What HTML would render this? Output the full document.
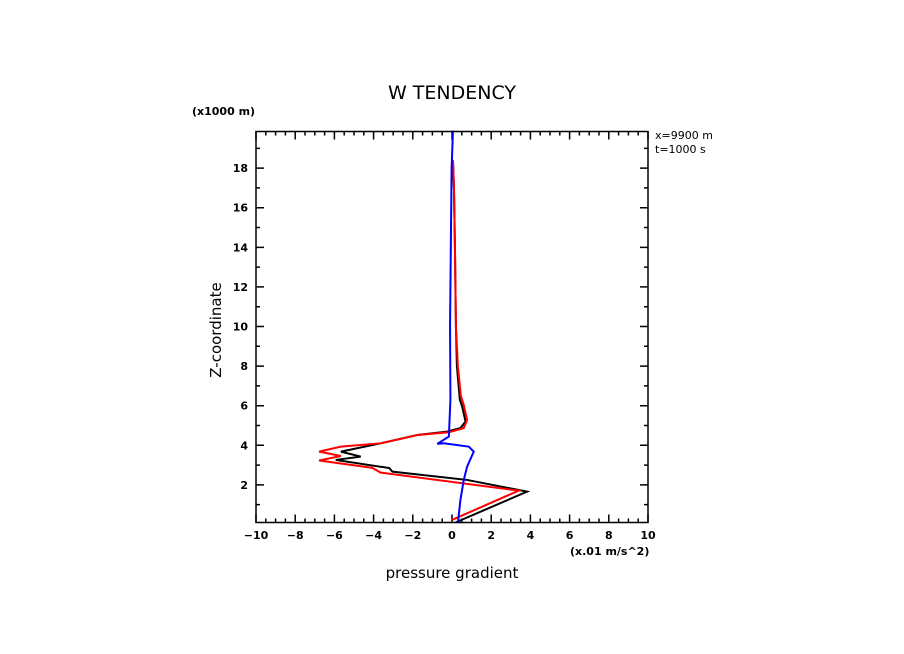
<!DOCTYPE html>
<html><head><meta charset="utf-8"><style>
body{margin:0;background:#fff;}
svg{display:block;font-family:"DejaVu Sans","Liberation Sans",sans-serif;}
</style></head><body>
<svg id="chart" width="904" height="654" viewBox="0 0 904 654" xmlns="http://www.w3.org/2000/svg">
<rect width="904" height="654" fill="#fff"/>
<text x="452" y="99" font-size="19" text-anchor="middle">W TENDENCY</text>
<text x="192" y="115" font-size="11" font-weight="bold">(x1000 m)</text>
<text x="655" y="139" font-size="11">x=9900 m</text>
<text x="655" y="153" font-size="11">t=1000 s</text>
<text x="570" y="555" font-size="11" font-weight="bold">(x.01 m/s^2)</text>
<text x="452" y="578" font-size="15" text-anchor="middle">pressure gradient</text>
<text x="0" y="0" font-size="15" text-anchor="middle" transform="translate(221,330) rotate(-90)">Z-coordinate</text>
<g id="axes"></g>
<g id="series"></g>
<rect x="256" y="131.5" width="392" height="391" fill="none" stroke="#000" stroke-width="1.5"/>
</svg>
<script>
const xTicks=[-10,-8,-6,-4,-2,0,2,4,6,8,10];
const yTicks=[2,4,6,8,10,12,14,16,18];
const blackX=[0.18,3.83,0.77,-3.04,-3.2,-5.93,-4.66,-5.67,-3.64,-1.77,-0.25,0.43,0.69,0.52,0.4,0.25,0.2,0.15,0.1,0.05];
const blackZ=[0.1,1.66,2.25,2.67,2.85,3.26,3.43,3.68,4.1,4.52,4.69,4.87,5.2,5.95,6.3,8,10,14,17,18.3];
const redX=[0,3.4,-3.64,-4.06,-6.78,-5.67,-6.78,-5.67,-3.64,-1.77,-0.16,0.6,0.77,0.6,0.45,0.3,0.2,0.15,0.1,0.05];
const redZ=[0.23,1.71,2.62,2.86,3.23,3.46,3.68,3.93,4.1,4.52,4.66,4.87,5.28,6.04,6.5,8,10,14,17,18.4];
const blueX=[0.3,0.43,0.6,0.77,1.11,0.86,-0.42,-0.75,-0.16,-0.08,-0.1,-0.05,-0.02,0.05];
const blueZ=[0.07,1.24,2.25,2.92,3.68,3.93,4.1,4.07,4.44,6.3,10,15,18,19.9];
const X0=256,X1=648,Y0=522.5,Y1=131.5,XMIN=-10,XMAX=10,ZMIN=0.1,ZMAX=19.85;
const sx=v=>X0+(v-XMIN)/(XMAX-XMIN)*(X1-X0);
const sy=v=>Y0-(v-ZMIN)/(ZMAX-ZMIN)*(Y0-Y1);
const NS="http://www.w3.org/2000/svg";
const axes=document.getElementById('axes'),ser=document.getElementById('series');
function mk(t,a,p){const e=document.createElementNS(NS,t);for(const k in a)e.setAttribute(k,a[k]);p.appendChild(e);return e;}
let d='';
for(let v=-10;v<=10.001;v+=0.5){const x=sx(v),L=(Math.abs(v%2)<1e-6)?8:4;d+=`M${x},${Y0}v${-L}M${x},${Y1}v${L}`;}
for(let v=1;v<=19;v+=1){const y=sy(v),L=(v%2===0)?8:4;d+=`M${X0},${y}h${L}M${X1},${y}h${-L}`;}
const tk=mk('path',{d:d,stroke:'#000','stroke-width':1.5,fill:'none'},axes);


xTicks.forEach(v=>{const t=mk('text',{x:sx(v),y:539,'font-size':11,'font-weight':'bold','text-anchor':'middle'},axes);t.textContent=String(v).replace('-','\u2212');

});
yTicks.forEach(v=>{const t=mk('text',{x:248,y:sy(v)+4,'font-size':11,'font-weight':'bold','text-anchor':'end'},axes);t.textContent=v;

});
function line(xs,zs,c,n){const p=mk('polyline',{points:xs.map((v,i)=>sx(v)+','+sy(zs[i])).join(' '),fill:'none',stroke:c,'stroke-width':2},ser);

}
line(blackX,blackZ,'#000','series-black');
line(redX,redZ,'#f00','series-red');
line(blueX,blueZ,'#00f','series-blue');
</script>
</body></html>
